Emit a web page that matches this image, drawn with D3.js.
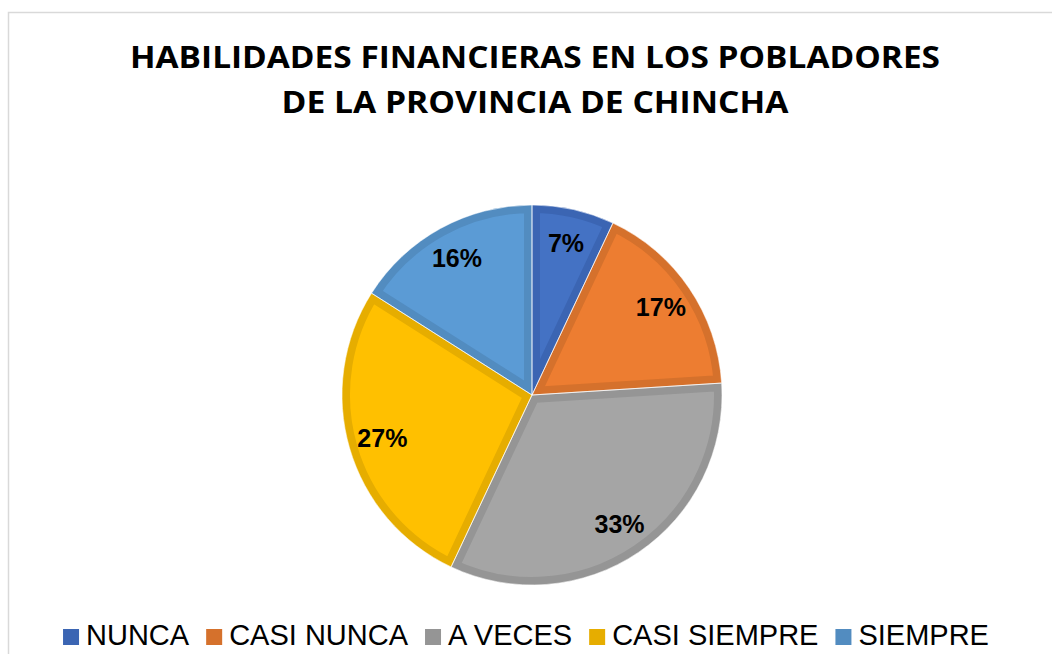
<!DOCTYPE html>
<html>
<head>
<meta charset="utf-8">
<script src="https://cdn.jsdelivr.net/npm/d3@7"></script>
<style>
  body { margin: 0; background: #fff; }
</style>
</head>
<body>
<div id="chart"></div>
<script>
// data
var categories = ["NUNCA", "CASI NUNCA", "A VECES", "CASI SIEMPRE", "SIEMPRE"];
var values = [7, 17, 33, 27, 16];
var fillColors = ["#4472C4", "#ED7D31", "#A5A5A5", "#FFC000", "#5B9BD5"];
var edgeColors = ["#3B65B3", "#D5712C", "#959595", "#E6AD00", "#528CC0"];
var titleLines = ["HABILIDADES FINANCIERAS EN LOS POBLADORES", "DE LA PROVINCIA DE CHINCHA"];

var width = 1052, height = 654;
var cx = 532, cy = 395, radius = 190;

var svg = d3.select("#chart").append("svg")
    .attr("width", width)
    .attr("height", height);

// chart frame
svg.append("rect")
    .attr("x", 8.5).attr("y", 12.5)
    .attr("width", width + 20).attr("height", height + 20)
    .attr("fill", "none")
    .attr("stroke", "#d9d9d9")
    .attr("stroke-width", 1.5);

// title
var titleWidths = [810, 507];
svg.selectAll(".title")
    .data(titleLines)
    .enter().append("text")
    .attr("class", "title")
    .attr("x", 535)
    .attr("y", (d, i) => 68 + i * 45)
    .attr("text-anchor", "middle")
    .attr("textLength", (d, i) => titleWidths[i])
    .attr("lengthAdjust", "spacingAndGlyphs")
    .style("font-family", "'Open Sans', sans-serif")
    .style("font-weight", 700)
    .style("font-size", "31px")
    .attr("fill", "#000")
    .text(d => d);

var pie = d3.pie().sort(null).value(d => d);
var arcs = pie(values);

var arc = d3.arc().innerRadius(0).outerRadius(radius);
var labelArc = d3.arc().innerRadius(radius * 0.82).outerRadius(radius * 0.82);

var g = svg.append("g").attr("transform", "translate(" + cx + "," + cy + ")");

var defs = svg.append("defs");
defs.selectAll("clipPath")
    .data(arcs)
    .enter().append("clipPath")
    .attr("id", (d, i) => "clip" + i)
    .append("path")
    .attr("d", arc);

// slices: fill + inner darker border (stroke clipped to the slice)
g.selectAll(".slice")
    .data(arcs)
    .enter().append("path")
    .attr("class", "slice")
    .attr("d", arc)
    .attr("fill", (d, i) => fillColors[i])
    .attr("stroke", (d, i) => edgeColors[i])
    .attr("stroke-width", 16)
    .attr("stroke-linejoin", "miter")
    .attr("clip-path", (d, i) => "url(#clip" + i + ")");

// thin separators between slices
g.selectAll(".sep")
    .data(arcs)
    .enter().append("path")
    .attr("class", "sep")
    .attr("d", arc)
    .attr("fill", "none")
    .attr("stroke", "#fff")
    .attr("stroke-width", 0.6);

// labels
g.selectAll(".lbl")
    .data(arcs)
    .enter().append("text")
    .attr("class", "lbl")
    .attr("transform", d => "translate(" + labelArc.centroid(d) + ")")
    .attr("text-anchor", "middle")
    .attr("dy", "0.36em")
    .style("font-family", "Arial, 'Liberation Sans', sans-serif")
    .style("font-weight", 700)
    .style("font-size", "25px")
    .attr("fill", "#000")
    .text(d => d.data + "%");

// legend
var legend = svg.append("g");
var items = legend.selectAll(".item")
    .data(categories)
    .enter().append("g")
    .attr("class", "item");

items.append("rect")
    .attr("width", 16).attr("height", 16)
    .attr("y", 629)
    .attr("fill", (d, i) => edgeColors[i]);

items.append("text")
    .attr("x", 23)
    .attr("y", 645)
    .style("font-family", "Arial, 'Liberation Sans', sans-serif")
    .style("font-size", "29px")
    .attr("fill", "#000")
    .text(d => d);

var xpos = 0, offsets = [];
items.each(function(d, i) {
    var w = d3.select(this).select("text").node().getComputedTextLength();
    offsets.push(xpos);
    xpos += 23 + w + 17;
});
var total = xpos - 17;
var startX = 526 - total / 2;
items.attr("transform", (d, i) => "translate(" + (startX + offsets[i]) + ",0)");
</script>
</body>
</html>
